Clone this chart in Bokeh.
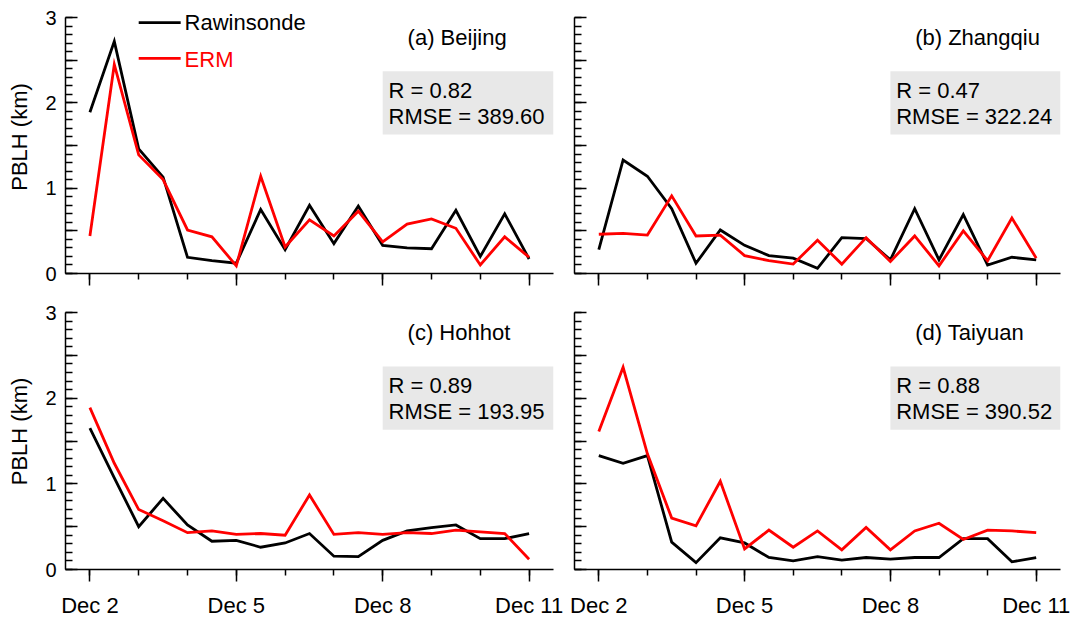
from bokeh.plotting import figure
from bokeh.layouts import column, row
from bokeh.models import (Range1d, FixedTicker, BoxAnnotation, Label,
                          LinearAxis)
from bokeh.embed import file_html
from bokeh.resources import INLINE

# Sample times: days after Dec 2 00 UTC, every 12 h
days = [0.0, 0.5, 1.0, 1.5, 2.0, 2.5, 3.0, 3.5, 4.0, 4.5,
        5.0, 5.5, 6.0, 6.5, 7.0, 7.5, 8.0, 8.5, 9.0]
date_ticks = [0, 3, 6, 9]
date_labels = ["Dec 2", "Dec 5", "Dec 8", "Dec 11"]

# PBLH (km) from rawinsonde and ERM at each site
beijing_obs = [1.89, 2.72, 1.46, 1.13, 0.19, 0.15, 0.12, 0.75, 0.28, 0.80,
               0.35, 0.79, 0.33, 0.30, 0.29, 0.74, 0.20, 0.70, 0.17]
beijing_erm = [0.44, 2.45, 1.39, 1.10, 0.51, 0.43, 0.09, 1.14, 0.31, 0.63,
               0.44, 0.73, 0.37, 0.58, 0.64, 0.53, 0.10, 0.43, 0.19]

zhangqiu_obs = [0.28, 1.33, 1.14, 0.76, 0.12, 0.51, 0.33, 0.21, 0.18, 0.06,
                0.42, 0.41, 0.16, 0.76, 0.16, 0.69, 0.10, 0.19, 0.16]
zhangqiu_erm = [0.46, 0.47, 0.45, 0.91, 0.44, 0.45, 0.21, 0.15, 0.11, 0.39,
                0.11, 0.42, 0.14, 0.44, 0.09, 0.50, 0.15, 0.65, 0.18]

hohhot_obs = [1.65, 1.07, 0.50, 0.83, 0.52, 0.33, 0.34, 0.26, 0.31, 0.42,
              0.155, 0.15, 0.34, 0.45, 0.49, 0.52, 0.36, 0.36, 0.42]
hohhot_erm = [1.89, 1.24, 0.70, 0.57, 0.43, 0.45, 0.41, 0.42, 0.40, 0.87,
              0.41, 0.43, 0.41, 0.43, 0.42, 0.46, 0.44, 0.42, 0.12]

taiyuan_obs = [1.33, 1.24, 1.33, 0.32, 0.08, 0.37, 0.31, 0.14, 0.10, 0.15,
               0.11, 0.14, 0.12, 0.14, 0.14, 0.36, 0.36, 0.09, 0.14]
taiyuan_erm = [1.61, 2.36, 1.35, 0.60, 0.51, 1.03, 0.24, 0.46, 0.26, 0.45,
               0.23, 0.49, 0.23, 0.45, 0.54, 0.35, 0.46, 0.45, 0.43]

titles = ["(a) Beijing", "(b) Zhangqiu", "(c) Hohhot", "(d) Taiyuan"]
r_values = ["0.82", "0.47", "0.89", "0.88"]
rmse_values = ["389.60", "322.24", "193.95", "390.52"]

FONT = "Liberation Sans"
TXT = "22px"
OBS_COLOR = "#000000"
ERM_COLOR = "#ff0000"
LW = 2.8


def hide_labels(axis):
    axis.major_label_text_font_size = "0px"
    axis.major_label_text_color = None
    axis.major_label_standoff = 0


def panel(obs, erm, title, r, rmse, width, height, borders, km_px,
          show_x_labels, show_y_labels, show_legend):
    left, right, top, bottom = borders
    frame_h = height - top - bottom
    # the frame reaches a little above 3 km so texts near the top stay visible
    y_top = frame_h / km_px
    p = figure(width=width, height=height, output_backend="svg",
               toolbar_location=None, x_range=Range1d(-0.5, 9.5),
               y_range=Range1d(0, y_top), min_border_left=left,
               min_border_right=right, min_border_top=top,
               min_border_bottom=bottom)
    p.outline_line_color = None
    p.xgrid.visible = False
    p.ygrid.visible = False
    p.background_fill_color = "white"
    p.border_fill_color = "white"

    # statistics box
    p.add_layout(BoxAnnotation(left=6.0, right=9.5, bottom=1.63, top=2.37,
                               fill_color="#e8e8e8", fill_alpha=1.0,
                               line_color=None, level="underlay"))

    p.line(days, obs, line_color=OBS_COLOR, line_width=LW, line_join="miter")
    p.line(days, erm, line_color=ERM_COLOR, line_width=LW, line_join="miter")

    # x axis: daily ticks, longer labelled ticks every 3 days
    xa = p.xaxis[0]
    xa.ticker = FixedTicker(ticks=date_ticks, minor_ticks=list(range(10)))
    xa.major_label_overrides = dict(zip(date_ticks, date_labels))
    xa.major_tick_out = 12
    xa.major_tick_in = 0
    xa.minor_tick_out = 6
    xa.minor_tick_in = 0
    xa.axis_line_width = 1.5
    xa.major_tick_line_width = 1.5
    xa.minor_tick_line_width = 1.5
    xa.major_label_text_font = FONT
    xa.major_label_text_color = "#000000"
    if show_x_labels:
        xa.major_label_text_font_size = TXT
        xa.major_label_standoff = 11
    else:
        hide_labels(xa)

    # y axis: labelled ticks every 1 km, minor every 0.1 km, pointing inward
    ya = p.yaxis[0]
    ya.bounds = (0, 3)
    ya.ticker = FixedTicker(ticks=[0, 1, 2, 3],
                            minor_ticks=[i / 10 for i in range(31)])
    ya.major_tick_in = 12
    ya.major_tick_out = 0
    ya.minor_tick_in = 7
    ya.minor_tick_out = 0
    ya.axis_line_width = 1.5
    ya.major_tick_line_width = 1.5
    ya.minor_tick_line_width = 1.5
    ya.major_label_text_font = FONT
    ya.major_label_text_color = "#000000"
    if show_y_labels:
        ya.major_label_text_font_size = "20px"
        ya.major_label_standoff = 9
        ya.axis_label = "PBLH (km)"
        ya.axis_label_text_font = FONT
        ya.axis_label_text_font_size = "22px"
        ya.axis_label_text_font_style = "normal"
        ya.axis_label_text_color = "#000000"
        ya.axis_label_standoff = 10
    else:
        hide_labels(ya)

    # long unlabelled ticks at the half-km marks, on the same axis line
    half = LinearAxis(ticker=FixedTicker(ticks=[0.5, 1.5, 2.5], minor_ticks=[]),
                      bounds=(0, 3), axis_line_color=None,
                      major_tick_in=12, major_tick_out=0,
                      major_tick_line_width=1.5,
                      minor_tick_in=0, minor_tick_out=0)
    hide_labels(half)
    p.left = [half] + list(p.left)

    def label(x, y, text, color="#000000"):
        p.add_layout(Label(x=x, y=y, text=text, text_font=FONT,
                           text_font_size=TXT, text_color=color,
                           text_align="left", text_baseline="middle"))

    label(6.51, 2.765, title)
    label(6.12, 2.145, "R = " + r)
    label(6.12, 1.84, "RMSE = " + rmse)

    if show_legend:
        p.line([1.0, 1.86], [2.94, 2.94], line_color=OBS_COLOR, line_width=LW)
        p.line([1.0, 1.86], [2.52, 2.52], line_color=ERM_COLOR, line_width=LW)
        label(1.94, 2.94, "Rawinsonde")
        label(1.94, 2.51, "ERM", ERM_COLOR)
    return p


pa = panel(beijing_obs, beijing_erm, titles[0], r_values[0], rmse_values[0],
           563, 293, (65, 10, 0, 20), 256 / 3, False, True, True)
pb = panel(zhangqiu_obs, zhangqiu_erm, titles[1], r_values[1], rmse_values[1],
           512, 293, (11, 15, 0, 20), 256 / 3, False, False, False)
pc = panel(hohhot_obs, hohhot_erm, titles[2], r_values[2], rmse_values[2],
           563, 328, (65, 10, 0, 52), 257 / 3, True, True, False)
pd_ = panel(taiyuan_obs, taiyuan_erm, titles[3], r_values[3], rmse_values[3],
            512, 328, (11, 15, 0, 52), 257 / 3, True, False, False)

layout = column(row(pa, pb), row(pc, pd_))

with open("out.html", "w") as f:
    f.write(file_html(layout, INLINE))
